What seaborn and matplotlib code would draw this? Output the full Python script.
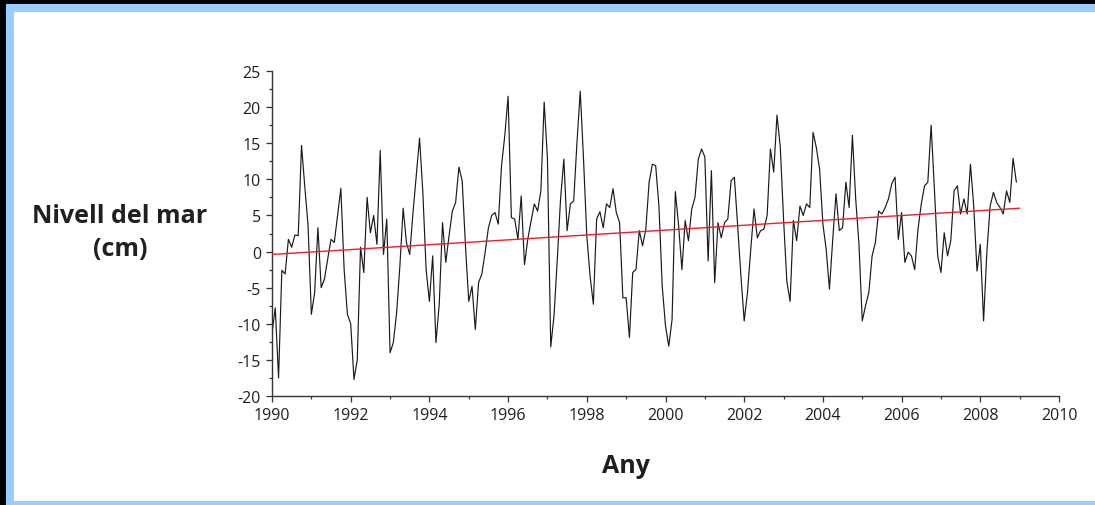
import numpy as np
import pandas as pd
import matplotlib
matplotlib.use("Agg")
import matplotlib.pyplot as plt
from matplotlib.patches import Rectangle
from matplotlib.ticker import MultipleLocator
import seaborn as sns

# ---- data (monthly sea level anomaly, cm), Jan 1990 onwards ----
start_year = 1990
sea_level = [
    -11.3, -7.8, -17.5, -2.6, -3.1, 1.7, 0.6, 2.3, 2.2, 14.7, 9.0, 3.6,
    -8.7, -5.7, 3.3, -5.0, -3.8, -1.0, 1.7, 1.25, 5.0, 8.75, -2.5, -8.7,
    -10.0, -17.7, -15.0, 0.6, -2.9, 7.5, 2.6, 5.0, 1.0, 14.0, -0.4, 4.5,
    -14.0, -12.6, -8.5, -2.0, 6.0, 1.25, -0.4, 5.4, 10.5, 15.7, 8.2, -2.5,
    -6.9, -0.6, -12.6, -7.3, 4.0, -1.5, 2.2, 5.6, 6.8, 11.7, 9.8, 0.8,
    -6.9, -4.8, -10.8, -4.3, -3.1, -0.1, 3.3, 5.0, 5.4, 3.8, 11.9, 16.1,
    21.5, 4.7, 4.5, 1.7, 7.7, -1.8, 1.7, 4.2, 6.6, 5.6, 8.4, 20.7,
    12.8, -13.2, -8.9, -1.1, 7.3, 12.8, 2.9, 6.6, 7.0, 15.1, 22.2, 12.8,
    2.2, -3.4, -7.3, 4.5, 5.5, 3.3, 6.6, 6.1, 8.7, 5.4, 4.0, -6.4,
    -6.4, -11.9, -2.9, -2.5, 2.9, 0.8, 3.1, 9.6, 12.1, 11.9, 6.3, -4.8,
    -10.3, -13.1, -9.4, 8.3, 3.6, -2.5, 4.3, 1.5, 5.9, 7.5, 12.8, 14.2,
    13.1, -1.3, 11.2, -4.3, 4.0, 1.9, 4.0, 4.5, 9.8, 10.3, 3.6, -3.4,
    -9.6, -5.7, 0.3, 5.9, 1.9, 2.9, 3.1, 5.0, 14.2, 11.0, 18.9, 14.5,
    4.5, -4.1, -6.9, 4.3, 1.5, 6.3, 5.0, 6.6, 6.1, 16.5, 14.4, 11.4,
    3.8, 0.3, -5.2, 1.7, 8.0, 2.9, 3.3, 9.6, 6.1, 16.1, 7.3, 1.0,
    -9.6, -7.5, -5.7, -0.6, 1.25, 5.6, 5.2, 6.1, 7.3, 9.4, 10.3, 1.7,
    5.4, -1.5, -0.1, -0.6, -2.5, 3.1, 6.6, 9.1, 9.6, 17.5, 8.7, -0.6,
    -2.9, 2.6, -0.6, 1.5, 8.4, 9.1, 5.2, 7.3, 5.2, 12.1, 6.3, -2.7,
    1.0, -9.6, -0.1, 6.3, 8.2, 6.8, 6.1, 5.2, 8.4, 6.8, 12.9, 9.6,
]
trend_years = [1990.0, 2009.0]
trend_values = [-0.4, 6.0]

x_ticks = [1990, 1992, 1994, 1996, 1998, 2000, 2002, 2004, 2006, 2008, 2010]
y_ticks = [-20, -15, -10, -5, 0, 5, 10, 15, 20, 25]

ylabel_text = "Nivell del mar\n(cm)"
xlabel_text = "Any"

# ---- build frames ----
years = start_year + np.arange(len(sea_level)) / 12.0
df = pd.DataFrame({"year": years, "level": sea_level})
df_trend = pd.DataFrame({"year": trend_years, "level": trend_values})

sns.set_style("ticks")
plt.rcParams["font.family"] = ["Open Sans", "DejaVu Sans"]
plt.rcParams["axes.unicode_minus"] = False

W, H = 1095, 506
fig = plt.figure(figsize=(W / 100, H / 100), dpi=100)
fig.patch.set_facecolor("white")

# frame decoration (black + light blue border)
blue = "#99ccff"
def frect(x0, y0, x1, y1, color):
    fig.patches.append(Rectangle((x0 / W, 1 - y1 / H), (x1 - x0) / W, (y1 - y0) / H,
                                 transform=fig.transFigure, color=color, zorder=0, lw=0))
frect(0, 0, W, 5, "black")
frect(0, 0, 6, H, "black")
frect(6, 5, W, 13, blue)
frect(6, 5, 14, H, blue)
frect(6, 502, W, H, blue)

ax_l, ax_r, ax_t, ax_b = 272, 1059, 72, 397
ax = fig.add_axes([ax_l / W, 1 - ax_b / H, (ax_r - ax_l) / W, (ax_b - ax_t) / H])
ax.set_facecolor("white")

sns.lineplot(data=df, x="year", y="level", ax=ax, color="#1a1a1a", linewidth=0.85,
             estimator=None, sort=False, zorder=2)
sns.lineplot(data=df_trend, x="year", y="level", ax=ax, color="#e8202a", linewidth=1.0,
             estimator=None, sort=False, zorder=3)

ax.set_xlim(1990, 2010)
ax.set_ylim(-20, 25)
ax.set_xticks(x_ticks)
ax.set_xticklabels([str(t) for t in x_ticks])
ax.set_yticks(y_ticks)
ax.set_yticklabels([str(t) for t in y_ticks])
ax.xaxis.set_minor_locator(MultipleLocator(1))
ax.yaxis.set_minor_locator(MultipleLocator(2.5))
ax.set_xlabel("")
ax.set_ylabel("")

for side in ["top", "right"]:
    ax.spines[side].set_visible(False)
for side in ["left", "bottom"]:
    ax.spines[side].set_color("#333333")
    ax.spines[side].set_linewidth(1.0)

ax.tick_params(axis="both", which="major", direction="out", length=4, width=0.9,
               color="#333333", labelsize=11.5, labelcolor="#231f20", pad=4)
ax.tick_params(axis="both", which="minor", direction="out", length=2.2, width=0.9,
               color="#333333")

fig.text(120 / W, 1 - 233 / H, ylabel_text, ha="center", va="center",
         fontsize=18, fontweight="bold", color="#231f20", linespacing=1.4,
         multialignment="center")
fig.text(626 / W, 1 - 467 / H, xlabel_text, ha="center", va="center",
         fontsize=18, fontweight="bold", color="#231f20")

fig.savefig("out.png", dpi=100, facecolor="white")
